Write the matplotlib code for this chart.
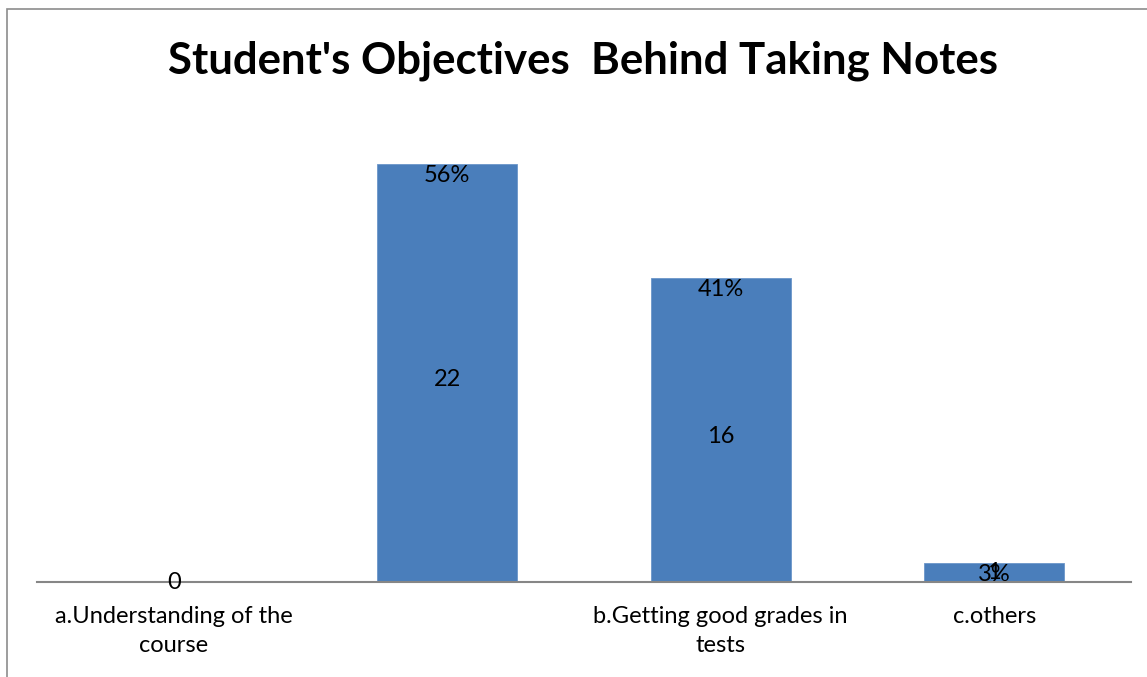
import matplotlib
matplotlib.use("Agg")
import matplotlib.pyplot as plt
from matplotlib.patches import Rectangle

# data
categories = ["a.Understanding of the\ncourse", "", "b.Getting good grades in\ntests", "c.others"]
counts = [0, 22, 16, 1]
percents = ["", "56%", "41%", "3%"]

plt.rcParams["font.family"] = ["Lato", "DejaVu Sans"]

fig = plt.figure(figsize=(11.47, 6.77), dpi=100)

# outer frame (only left and top edges visible)
fig.patches.append(Rectangle((0.0063, -0.05), 1.1, 1.0373, transform=fig.transFigure,
                             fill=False, edgecolor="#8c8c8c", lw=1.2))

ax = fig.add_axes([0.0323, 0.1403, 0.9537, 0.7016])
x = list(range(len(categories)))
bars = ax.bar(x, counts, width=0.512, color="#4A7EBB", edgecolor="#6b96c9", lw=0.6)

ax.set_xlim(-0.5, len(categories) - 0.5)
ax.set_ylim(0, 25)
for s in ["top", "right", "left"]:
    ax.spines[s].set_visible(False)
ax.spines["bottom"].set_color("#868686")
ax.spines["bottom"].set_linewidth(1.5)
ax.set_yticks([])
ax.set_xticks(x)
ax.set_xticklabels(categories, fontsize=17, linespacing=1.5)
ax.tick_params(axis="x", length=0, pad=17)

for xi, c, p in zip(x, counts, percents):
    off = -6 if c > 1 else 0
    ax.annotate(str(c), (xi, c / 2), xytext=(0, off), textcoords="offset pixels",
                ha="center", va="center", fontsize=17)
    if p:
        ax.text(xi, c - 0.05, p, ha="center", va="top", fontsize=17)

fig.text(0.508, 0.911, "Student's Objectives  Behind Taking Notes", ha="center", va="center",
         fontsize=31.5, fontweight="bold")

plt.savefig("out.png", dpi=100)
plt.close()
